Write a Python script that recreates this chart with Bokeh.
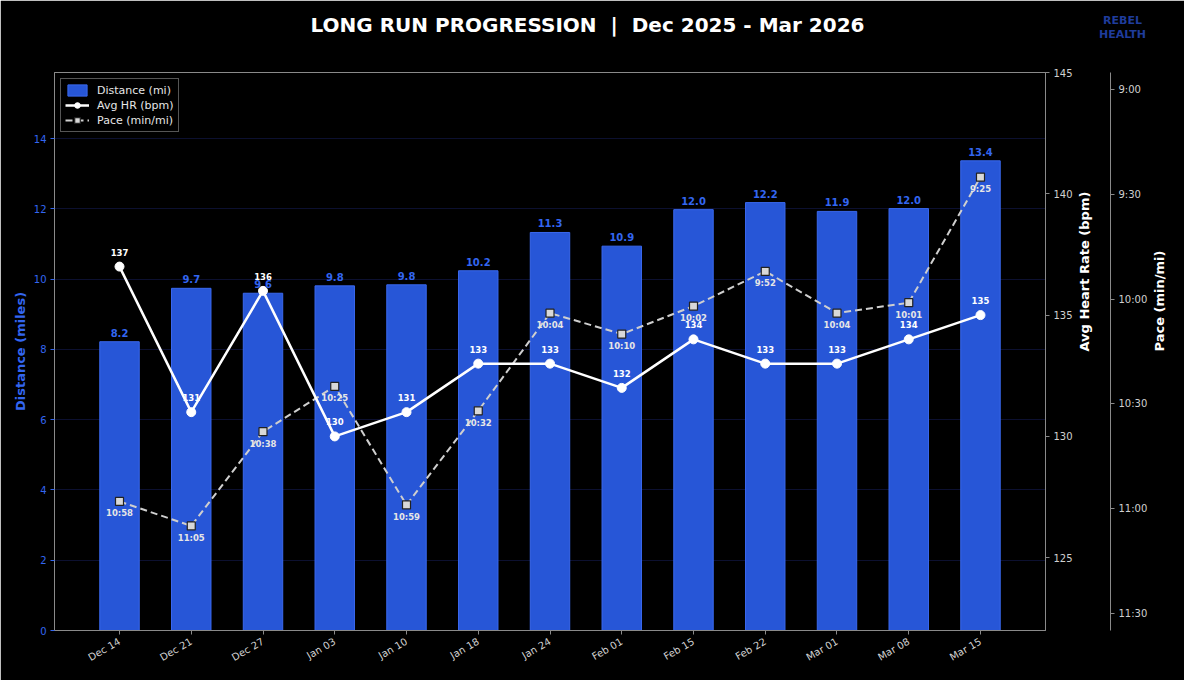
import math
from bokeh.plotting import figure
from bokeh.models import Range1d, LinearAxis, FixedTicker, Label, ColumnDataSource
from bokeh.core.properties import value
from bokeh.embed import file_html
from bokeh.resources import INLINE

# ---------------- data ----------------
dates = ["Dec 14", "Dec 21", "Dec 27", "Jan 03", "Jan 10", "Jan 18", "Jan 24",
         "Feb 01", "Feb 15", "Feb 22", "Mar 01", "Mar 08", "Mar 15"]
distance_mi = [8.22, 9.74, 9.60, 9.81, 9.84, 10.24, 11.33, 10.94, 11.98, 12.18, 11.93, 12.01, 13.37]
avg_hr = [137, 131, 136, 130, 131, 133, 133, 132, 134, 133, 133, 134, 135]
pace_text = ["10:58", "11:05", "10:38", "10:25", "10:59", "10:32", "10:04",
             "10:10", "10:02", "9:52", "10:04", "10:01", "9:25"]
dist_ticks = [0, 2, 4, 6, 8, 10, 12, 14]
hr_ticks = [125, 130, 135, 140, 145]
pace_tick_labels = ["9:00", "9:30", "10:00", "10:30", "11:00", "11:30"]

FONT = "DejaVu Sans"


def to_min(s):
    m, sec = s.split(":")
    return int(m) + int(sec) / 60.0


pace_min = [to_min(s) for s in pace_text]
pace_ticks = [to_min(s) for s in pace_tick_labels]
xs = list(range(len(dates)))

src = ColumnDataSource(dict(
    x=xs, dist=distance_mi, dist_lbl=[f"{d:.1f}" for d in distance_mi],
    hr=avg_hr, hr_lbl=[str(h) for h in avg_hr],
    pace=pace_min, pace_lbl=pace_text,
))

BLUE_BAR = "#2756d7"
BLUE_TXT = "#3366f0"
GRAY_AX = "#8a8a8a"
LIGHT = "#d0d0d0"

p = figure(width=1184, height=680, output_backend="svg", toolbar_location=None,
           x_range=Range1d(-0.906, len(dates) - 1 + 0.906),
           y_range=Range1d(0, max(distance_mi) * 1.188),
           background_fill_color="black", border_fill_color="black",
           outline_line_color=GRAY_AX, outline_line_width=1,
           min_border_left=54, min_border_right=139, min_border_top=72, min_border_bottom=50)
p.extra_y_ranges = {
    "hr": Range1d(min(avg_hr) - 8, max(avg_hr) + 8),
    "pace": Range1d(max(pace_min) + 0.5, min(pace_min) - 0.5),
}

# grid
p.xgrid.visible = False
p.ygrid.grid_line_color = "#0c1030"
p.ygrid.grid_line_width = 1

# bars
p.vbar(x="x", top="dist", width=0.55, source=src, fill_color=BLUE_BAR,
       line_color="#3a68ee", line_width=1, legend_label="Distance (mi)")
p.text(x="x", y="dist", text="dist_lbl", source=src, text_align="center",
       text_baseline="bottom", y_offset=-5, text_font=value(FONT),
       text_font_style="bold", text_font_size="10px", text_color=BLUE_TXT)

# pace line
p.line(x="x", y="pace", source=src, y_range_name="pace", line_color="#cfcfcf",
       line_width=2, line_dash="7 4", legend_label="Pace (min/mi)")
p.scatter(x="x", y="pace", source=src, y_range_name="pace", marker="square", size=8,
          fill_color="#d8d8d8", line_color="#222222", line_width=1.2,
          legend_label="Pace (min/mi)")

# HR line
p.line(x="x", y="hr", source=src, y_range_name="hr", line_color="white",
       line_width=2.5, legend_label="Avg HR (bpm)")
p.scatter(x="x", y="hr", source=src, y_range_name="hr", marker="circle", size=9,
          fill_color="white", line_color="white", legend_label="Avg HR (bpm)")

p.text(x="x", y="hr", text="hr_lbl", source=src, y_range_name="hr", text_align="center",
       text_baseline="bottom", y_offset=-11, text_font=value(FONT),
       text_font_style="bold", text_font_size="8.5px", text_color="white")
p.text(x="x", y="pace", text="pace_lbl", source=src, y_range_name="pace", text_align="center",
       text_baseline="top", y_offset=7, text_font=value(FONT),
       text_font_style="bold", text_font_size="8.5px", text_color="#e6e6e6")

# x axis
xa = p.xaxis[0]
xa.ticker = FixedTicker(ticks=xs)
xa.major_label_overrides = {i: d for i, d in zip(xs, dates)}
xa.major_label_orientation = math.pi / 6
xa.major_label_text_color = LIGHT
xa.major_label_text_font = FONT
xa.major_label_text_font_size = "10px"
xa.major_label_standoff = 6
xa.axis_line_color = GRAY_AX
xa.major_tick_line_color = GRAY_AX
xa.major_tick_out = 4
xa.major_tick_in = 0
xa.minor_tick_line_color = None

# left axis
ya = p.yaxis[0]
ya.ticker = FixedTicker(ticks=dist_ticks)
ya.axis_label = "Distance (miles)"
ya.axis_label_text_color = BLUE_TXT
ya.axis_label_text_font = FONT
ya.axis_label_text_font_style = "bold"
ya.axis_label_text_font_size = "13px"
ya.axis_label_standoff = 3
ya.major_label_text_color = BLUE_TXT
ya.major_label_text_font = FONT
ya.major_label_text_font_size = "10px"
ya.axis_line_color = GRAY_AX
ya.major_tick_line_color = BLUE_TXT
ya.major_tick_out = 4
ya.major_tick_in = 0
ya.major_label_standoff = 4
ya.minor_tick_line_color = None

# HR axis
hra = LinearAxis(y_range_name="hr", ticker=FixedTicker(ticks=hr_ticks),
                 axis_label="Avg Heart Rate (bpm)")
# pace axis
pa = LinearAxis(y_range_name="pace", ticker=FixedTicker(ticks=pace_ticks),
                axis_label="Pace (min/mi)")
pa.major_label_overrides = {t: l for t, l in zip(pace_ticks, pace_tick_labels)}
for ax in (hra, pa):
    ax.axis_label_text_color = "white"
    ax.axis_label_text_font = FONT
    ax.axis_label_text_font_style = "bold"
    ax.axis_label_text_font_size = "13px"
    ax.axis_label_orientation = math.pi / 2
    ax.major_label_text_color = LIGHT
    ax.major_label_text_font = FONT
    ax.major_label_text_font_size = "10px"
    ax.axis_line_color = GRAY_AX
    ax.major_tick_line_color = GRAY_AX
    ax.major_tick_out = 4
    ax.major_tick_in = 0
    ax.major_label_standoff = 4
    ax.minor_tick_line_color = None
hra.axis_label_standoff = 9
pa.axis_label_standoff = 9

# invisible spacer axis between the two right axes (black tick on black border)
gap = LinearAxis(y_range_name="hr", ticker=FixedTicker(ticks=[hr_ticks[2]]),
                 axis_line_color=None, major_tick_line_color="black",
                 minor_tick_line_color=None, major_tick_out=8, major_tick_in=0,
                 minor_tick_out=0, major_label_text_color=None)
p.add_layout(hra, "right")
p.add_layout(gap, "right")
p.add_layout(pa, "right")

# legend
lg = p.legend[0]
items = list(lg.items)
order = ["Distance (mi)", "Avg HR (bpm)", "Pace (min/mi)"]
lg.items = sorted(items, key=lambda it: order.index(it.label.value))
lg.location = "top_left"
lg.background_fill_color = "black"
lg.background_fill_alpha = 1
lg.border_line_color = "#aaaaaa"
lg.border_line_width = 1
lg.label_text_color = "#e6e6e6"
lg.label_text_font = FONT
lg.label_text_font_size = "11px"
lg.glyph_width = 24
lg.glyph_height = 14
lg.label_height = 14
lg.spacing = 1
lg.padding = 4
lg.margin = 6
lg.label_standoff = 8

# logo & title, placed in the "above" panel (screen units relative to their panel)
p.add_layout(Label(x=1068, y=45, x_units="screen", y_units="screen",
                   text="REBEL\nHEALTH", text_align="center", text_baseline="middle",
                   text_color="#1f3c9c", text_font=FONT, text_font_style="bold",
                   text_font_size="11px", text_line_height=1.15), "above")
p.add_layout(Label(x=533, y=20, x_units="screen", y_units="screen",
                   text="LONG RUN PROGRESSION \u00a0|\u00a0 Dec 2025 - Mar 2026",
                   text_align="center", text_baseline="middle", text_color="white",
                   text_font=FONT, text_font_style="bold", text_font_size="20px"),
             "above")

open("out.html", "w").write(file_html(p, INLINE))
